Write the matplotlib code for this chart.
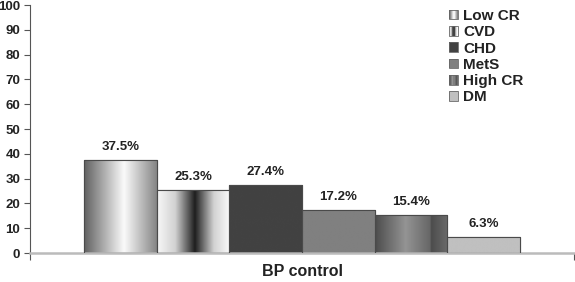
import numpy as np
import matplotlib
matplotlib.use("Agg")
import matplotlib.pyplot as plt
from matplotlib.patches import Rectangle
from matplotlib.legend_handler import HandlerBase

categories = ["BP control"]
series = ["Low CR", "CVD", "CHD", "MetS", "High CR", "DM"]
values = [37.5, 25.3, 27.4, 17.2, 15.4, 6.3]
labels = ["37.5%", "25.3%", "27.4%", "17.2%", "15.4%", "6.3%"]
yticks = [0, 10, 20, 30, 40, 50, 60, 70, 80, 90, 100]

# gray-level profiles across each bar (style)
profiles = [
    ([0, 0.55, 1], [0.38, 0.98, 0.52]),
    ([0, 0.25, 0.52, 0.78, 1], [0.97, 0.82, 0.12, 0.82, 0.98]),
    ([0, 1], [0.26, 0.26]),
    ([0, 1], [0.50, 0.50]),
    ([0, 0.42, 0.76, 0.77, 1], [0.30, 0.58, 0.40, 0.30, 0.42]),
    ([0, 1], [0.75, 0.75]),
]

def profile_array(p, n=200):
    xs = np.linspace(0, 1, n)
    return np.interp(xs, p[0], p[1])

plt.rcParams['font.family'] = ['Liberation Sans', 'DejaVu Sans']
fig = plt.figure(figsize=(5.75, 2.82), dpi=100)
ax = fig.add_axes([30/575, 1-253/282, 544/575, 248/282])

nser = len(series)
width = 0.8 / nser
x0 = np.arange(len(categories))
for i, (s, v, lab, p) in enumerate(zip(series, values, labels, profiles)):
    pos = x0 - 0.4 + width * (i + 0.5)
    bars = ax.bar(pos, [v], width=width, color=str(np.mean(p[1])),
                  edgecolor='#4a4a4a', linewidth=0.8, zorder=2)
    for r in bars:
        xl = r.get_x(); xr = xl + r.get_width(); h = r.get_height()
        img = profile_array(p)[None, :]
        im = ax.imshow(img, extent=[xl, xr, 0, h], aspect='auto', cmap='gray',
                       vmin=0, vmax=1, zorder=2.5, interpolation='bilinear')
        im.set_clip_path(r)
        edge = Rectangle((xl, 0), r.get_width(), h, fill=False,
                         edgecolor='#4a4a4a', linewidth=0.8, zorder=3)
        ax.add_patch(edge)
        ax.text(r.get_x() + r.get_width()/2, h + 5.3, lab, ha='center',
                va='center', fontsize=9.5, fontweight='bold', color='#222222')

ax.set_xlim(-0.5, 0.5)
ax.set_ylim(0, 100)
ax.set_yticks(yticks)
ax.set_yticklabels([str(t) for t in yticks], fontsize=9.5, fontweight='bold', color='#222222')
ax.set_xticks([-0.5, 0.5])
ax.set_xticklabels(['', ''])
ax.tick_params(axis='y', length=4, width=0.8, color='#555555', pad=3)
ax.tick_params(axis='x', length=5, width=0.8, color='#555555')
ax.text(0, -19/248, categories[0], transform=ax.get_xaxis_transform(),
        ha='center', va='center', fontsize=11.5, fontweight='bold', color='#222222')
for s in ['top', 'right']:
    ax.spines[s].set_visible(False)
ax.spines['left'].set_color('#555555')
ax.spines['left'].set_linewidth(0.8)
ax.spines['bottom'].set_color('#bbbbbb')
ax.spines['bottom'].set_linewidth(1.8)


class GradHandler(HandlerBase):
    def __init__(self, prof):
        super().__init__()
        self.prof = prof

    def create_artists(self, legend, orig_handle, xdescent, ydescent, width,
                       height, fontsize, trans):
        n = 8
        vals = profile_array(self.prof, n)
        arts = []
        for k in range(n):
            rr = Rectangle((-xdescent + width*k/n, -ydescent), width/n, height,
                           facecolor=str(vals[k]), edgecolor='none', transform=trans)
            arts.append(rr)
        arts.append(Rectangle((-xdescent, -ydescent), width, height, fill=False,
                              edgecolor='#666666', linewidth=0.6, transform=trans))
        return arts

handles = [Rectangle((0, 0), 1, 1) for _ in series]
hmap = {h: GradHandler(p) for h, p in zip(handles, profiles)}
leg = ax.legend(handles, series, handler_map=hmap, loc='upper left',
                bbox_to_anchor=((449-30)/544, (253-9)/248), frameon=False,
                prop={'weight': 'bold', 'size': 11}, handlelength=0.58,
                handleheight=0.6, handletextpad=0.35, labelspacing=0.15,
                borderaxespad=0, borderpad=0)
for t in leg.get_texts():
    t.set_color('#222222')

fig.savefig('out.png', dpi=100)
